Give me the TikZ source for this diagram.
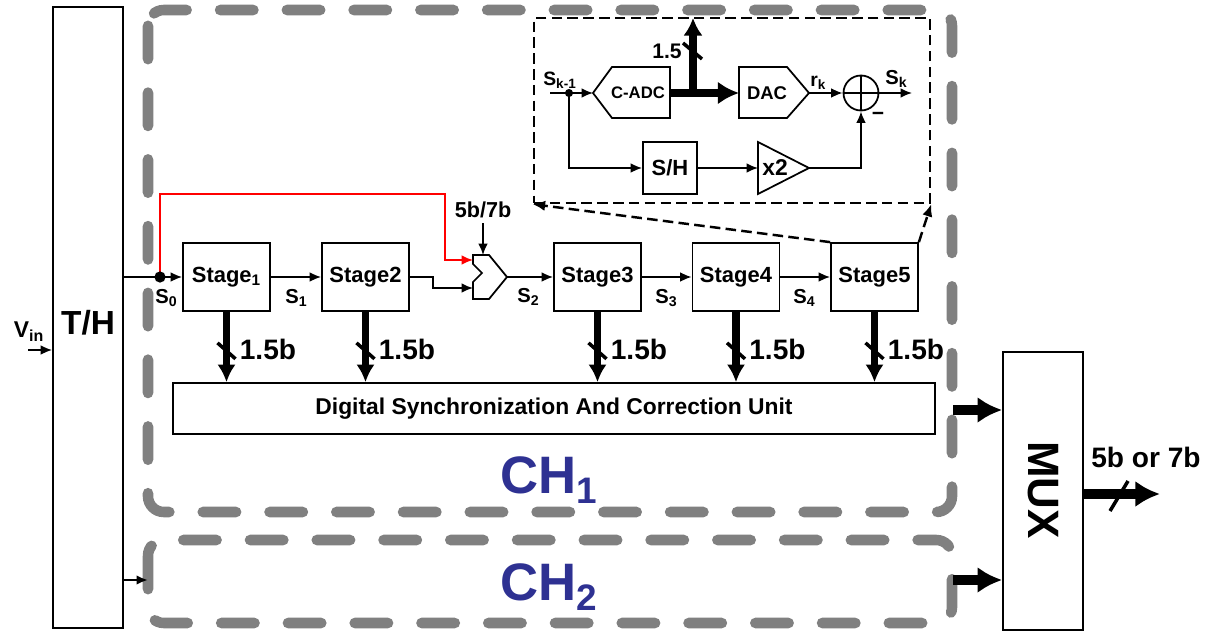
\documentclass[tikz,border=0pt]{standalone}
\usepackage{fontspec}
\setmainfont{Liberation Sans}
\usetikzlibrary{arrows.meta}
\definecolor{chblue}{RGB}{46,49,146}
\definecolor{boxgray}{RGB}{128,128,128}
\newcommand{\fsz}[1]{\fontsize{#1}{#1}\selectfont\bfseries}
\begin{document}
\begin{tikzpicture}[x=0.02cm,y=-0.02cm,
  box/.style={draw,line width=1pt,inner sep=0pt},
  wire/.style={line width=1pt,-{Latex[length=6.5pt,width=5.5pt]}},
  fatarrow/.style={line width=4.5pt,-{Latex[length=10pt,width=10.5pt]}},
  muxarrow/.style={line width=5.5pt,-{Latex[length=14pt,width=15pt]}},
  chbox/.style={draw=boxgray,line width=6pt,line cap=round,dash pattern=on 19pt off 19pt,rounded corners=9pt},
  insetdash/.style={draw,line width=1.4pt,dash pattern=on 6pt off 3pt},
  slash/.style={line width=2pt},
  stagebox/.style={box,minimum width=1.74cm,minimum height=1.36cm,font=\fsz{12.5}},
  lbl/.style={inner sep=0pt},
]
\useasboundingbox (0,0) rectangle (1211,632);

% channel boxes
\draw[chbox] (148,10) rectangle (952,512);
\draw[chbox] (148,540) rectangle (952,623);

% T/H
\node[box,minimum width=1.4cm,minimum height=12.42cm] (th) at (88,317.5) {};
\node[lbl,anchor=base,font=\fsz{19}] (thlabel) at (88,334) {T/H};
\coordinate (vin) at (28,350);
\draw[wire] (vin) -- (th.west |- vin);
\node[lbl,anchor=base,font=\fsz{13}] (vinlabel) at (29,337) {V\textsubscript{in}};

% stages
\node[stagebox] (s1) at (226.5,277) {Stage\textsubscript{1}};
\node[stagebox] (s2) at (365.5,277) {Stage2};
\node[stagebox] (s3) at (597.5,277) {Stage3};
\node[stagebox] (s4) at (736,277) {Stage4};
\node[stagebox] (s5) at (874.5,277) {Stage5};

% merge element
\draw[line width=1pt] (473,255) -- (489,255) -- (507,277) -- (489,299) -- (473,299) -- (473,282) -- (482,273) -- (473,264) -- cycle;
\coordinate (mA) at (473,260);
\coordinate (mB) at (473,288);
\coordinate (mO) at (507,277);
\coordinate (mT) at (483,255);
\coordinate (m57) at (483,223);
\coordinate (s2b) at (433,277);
\coordinate (redc) at (445,194);

% S0 and red bypass
\coordinate (s0) at (160,277);
\draw[line width=1.5pt] (th.east |- s0) -- (s0);
\draw[red,line width=1pt,-{Latex[length=6.5pt,width=5.5pt]}] (s0) |- (redc) |- (mA);
\draw[wire] (s0) -- (s1.west);
\fill (s0) circle[radius=3.2pt];
\draw[wire] (s1.east) -- (s2.west);
\draw[wire] (s2.east) -- (s2b) |- (mB);
\draw[wire] (mO) -- (s3.west);
\draw[wire] (s3.east) -- (s4.west);
\draw[wire] (s4.east) -- (s5.west);
\draw[wire] (m57) -- (mT);
\node[lbl,anchor=base,font=\fsz{12.3}] (l57) at (483,217) {5b/7b};

% S labels
\node[lbl,anchor=base west,font=\fsz{11.5}] (ls0) at (155,303) {S\textsubscript{0}};
\node[lbl,anchor=base west,font=\fsz{11.5}] (ls1) at (285,303) {S\textsubscript{1}};
\node[lbl,anchor=base west,font=\fsz{11.5}] (ls2) at (517,302) {S\textsubscript{2}};
\node[lbl,anchor=base west,font=\fsz{11.5}] (ls3) at (655,303) {S\textsubscript{3}};
\node[lbl,anchor=base west,font=\fsz{11.5}] (ls4) at (793,303) {S\textsubscript{4}};

% digital correction
\node[box,minimum width=15.24cm,minimum height=1.02cm,font=\fsz{13}] (dig) at (554,408.5) {Digital Synchronization And Correction Unit};
\foreach \s in {s1,s2,s3,s4,s5}{
  \draw[fatarrow] (\s.south) -- (\s.south |- dig.north);
  \draw[slash] ([shift={(-9,31)}]\s.south) -- ([shift={(9,47)}]\s.south);
  \node[lbl,anchor=base west,font=\fsz{16}] (\s lab) at ([shift={(13,48)}]\s.south) {1.5b};
}

% MUX
\node[box,minimum width=1.6cm,minimum height=5.56cm] (mux) at (1043,491) {};
\node[lbl,rotate=-90,font=\fsz{25}] (muxlabel) at (1043,490) {MUX};
\coordinate (ch1out) at (953,410);
\coordinate (ch2out) at (953,580);
\coordinate (outp) at (1160,494);
\draw[muxarrow] (ch1out) -- (mux.west |- ch1out);
\draw[muxarrow] (ch2out) -- (mux.west |- ch2out);
\draw[muxarrow] (mux.east |- outp) -- (outp);
\draw[slash] (1110,511) -- (1128,481);
\node[lbl,anchor=base,font=\fsz{16}] (lout) at (1146,467) {5b or 7b};

% second T/H output
\coordinate (th2) at (148,580);
\draw[wire,line width=1.5pt] (th.east |- th2) -- (th2);

% channel labels
\node[lbl,anchor=base west,text=chblue,font=\fsz{30}] (ch1) at (500,493) {CH\textsubscript{1}};
\node[lbl,anchor=base west,text=chblue,font=\fsz{30}] (ch2) at (500,600) {CH\textsubscript{2}};

% inset
\node[insetdash,minimum width=7.92cm,minimum height=3.7cm] (ins) at (732,110.5) {};
\draw[insetdash,-{Latex[length=7pt,width=6pt]}] (s5.north west) -- (ins.south west);
\draw[insetdash,-{Latex[length=7pt,width=6pt]}] (s5.north east) -- (ins.south east);

\draw[line width=1pt] (593,93) -- (612,67) -- (670,67) -- (670,118) -- (612,118) -- cycle;
\node[lbl,font=\fsz{9.5}] (cadc) at (638,93) {C-ADC};
\coordinate (cadcin) at (593,93);
\coordinate (cadcout) at (670,93);
\draw[line width=1pt] (739,67) -- (787,67) -- (809,93) -- (787,118) -- (739,118) -- cycle;
\node[lbl,font=\fsz{10.5}] (dac) at (767,93) {DAC};
\coordinate (dacin) at (739,93);
\coordinate (dacout) at (809,93);
\draw[line width=1pt] (758,142) -- (809,168) -- (758,194) -- cycle;
\node[lbl,font=\fsz{13}] (x2) at (775,168) {x2};
\coordinate (x2in) at (758,168);
\coordinate (x2out) at (809,168);
\node[box,minimum width=1.08cm,minimum height=1.04cm,font=\fsz{12.5}] (sh) at (670,168) {S/H};
\node[draw,circle,line width=1pt,minimum size=0.7cm,inner sep=0pt] (sum) at (861,93) {};
\draw[line width=1pt] (sum.north) -- (sum.south) (sum.west) -- (sum.east);

\coordinate (kin) at (550,93);
\coordinate (kdot) at (569,93);
\coordinate (kout) at (912,93);
\draw[wire] (kin) -- (cadcin);
\fill (kdot) circle[radius=2.3pt];
\draw[wire] (kdot) |- (sh.west);
\draw[wire] (sh.east) -- (x2in);
\draw[wire] (x2out) -| (sum.south);
\draw[wire] (dacout) -- (sum.west);
\draw[wire] (sum.east) -- (kout);
\draw[line width=5pt,-{Latex[length=12pt,width=13pt]}] (cadcout) -- (dacin);
\coordinate (br) at (693,95);
\coordinate (brtop) at (693,18);
\draw[line width=4pt,-{Latex[length=10pt,width=11pt]}] (br) -- (brtop);
\draw[slash] (683,43) -- (702,59);

\node[lbl,anchor=base west,font=\fsz{11}] (lsk1) at (543,85) {S\textsubscript{k-1}};
\node[lbl,anchor=base west,font=\fsz{11}] (lrk) at (810,86) {r\textsubscript{k}};
\node[lbl,anchor=base west,font=\fsz{11.5}] (lsk) at (885,84) {S\textsubscript{k}};
\node[lbl,anchor=base west,font=\fsz{12}] (l15) at (652,58) {1.5};
\node[lbl,font=\fsz{12}] (lminus) at (878,116) {−};
\end{tikzpicture}
\end{document}
